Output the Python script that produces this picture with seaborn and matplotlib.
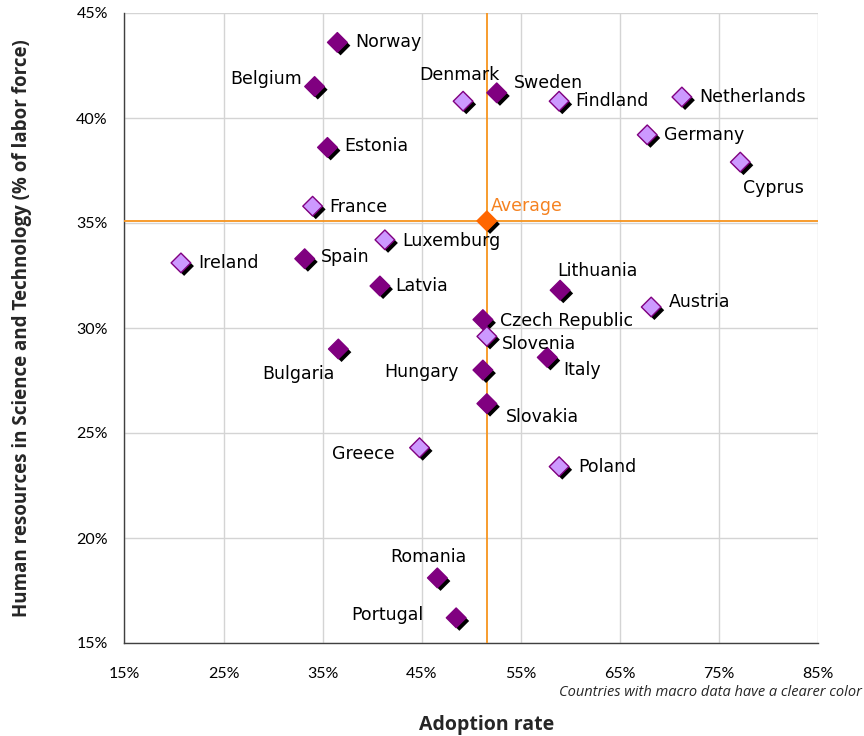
import matplotlib
matplotlib.use("Agg")
import matplotlib.pyplot as plt
import matplotlib.patheffects as pe
from matplotlib.ticker import PercentFormatter, FixedLocator
import numpy as np
import pandas as pd
import seaborn as sns

# ---- data -------------------------------------------------------------
countries = ["Norway", "Belgium", "Denmark", "Sweden", "Findland", "Netherlands",
             "Germany", "Cyprus", "Estonia", "France", "Luxemburg", "Ireland",
             "Spain", "Latvia", "Lithuania", "Austria", "Czech Republic",
             "Slovenia", "Bulgaria", "Hungary", "Italy", "Slovakia", "Greece",
             "Poland", "Romania", "Portugal"]
adoption_rate = [36.5, 34.2, 49.2, 52.6, 58.9, 71.3,
                 67.8, 77.2, 35.5, 34.0, 41.3, 20.7,
                 33.2, 40.8, 59.0, 68.2, 51.2,
                 51.6, 36.6, 51.2, 57.7, 51.6, 44.8,
                 58.9, 46.6, 48.5]
hrst_share = [43.6, 41.5, 40.8, 41.2, 40.8, 41.0,
              39.2, 37.9, 38.6, 35.8, 34.2, 33.1,
              33.3, 32.0, 31.8, 31.0, 30.4,
              29.6, 29.0, 28.0, 28.6, 26.4, 24.3,
              23.4, 18.1, 16.2]
has_macro_data = [False, False, True, False, True, True,
                  True, True, False, True, True, True,
                  False, False, False, True, False,
                  True, False, False, False, False, True,
                  True, False, False]
average_point = (51.6, 35.1)

x_ticks = [15, 25, 35, 45, 55, 65, 75, 85]
y_ticks = [15, 20, 25, 30, 35, 40, 45]

# label placement around each marker: (dx px, dy px downward, alignment)
label_place = {
    "Norway": (18, 0, "left"), "Belgium": (-13, -8, "right"),
    "Denmark": (-4, -26, "center"), "Sweden": (17, -10, "left"),
    "Findland": (16, 0, "left"), "Netherlands": (17, 0, "left"),
    "Germany": (17, 0, "left"), "Cyprus": (33, 26, "center"),
    "Estonia": (17, -1, "left"), "France": (17, 1, "left"),
    "Luxemburg": (17, 1, "left"), "Ireland": (17, 0, "left"),
    "Spain": (16, -2, "left"), "Latvia": (15, 0, "left"),
    "Lithuania": (-3, -19, "left"), "Austria": (18, -5, "left"),
    "Czech Republic": (17, 1, "left"), "Slovenia": (15, 8, "left"),
    "Bulgaria": (-4, 25, "right"), "Hungary": (-24, 2, "right"),
    "Italy": (16, 13, "left"), "Slovakia": (19, 13, "left"),
    "Greece": (-25, 6, "right"), "Poland": (19, 0, "left"),
    "Romania": (-9, -21, "center"), "Portugal": (-33, -3, "right"),
}

df = pd.DataFrame({"country": countries, "adoption": adoption_rate,
                   "hrst": hrst_share, "macro": has_macro_data})

# ---- styling ----------------------------------------------------------
sns.set_theme(style="white")
plt.rcParams["font.family"] = ["Lato", "DejaVu Sans"]

LABEL_FONT = ["DejaVu Sans"]
TITLE_FONT = ["Open Sans", "DejaVu Sans"]

DARK = "#800080"
LIGHT = "#CC99FF"
ORANGE = "#FF6600"
AVG_LINE = "#F7941E"

fig = plt.figure(figsize=(8.64, 7.36), dpi=100)
ax = fig.add_axes([124.5 / 864, 1 - 643 / 736, (817.5 - 124.5) / 864, (643 - 13) / 736])

shadow = [pe.SimplePatchShadow(offset=(2.3, -2.3), shadow_rgbFace="black", alpha=1.0),
          pe.Normal()]

sns.scatterplot(data=df, x="adoption", y="hrst", hue="macro",
                palette={True: LIGHT, False: DARK}, marker="D", s=100,
                edgecolor=DARK, linewidth=1.0, legend=False, ax=ax, zorder=4)
ax.collections[-1].set_path_effects(shadow)

# average cross-hair
ax.axvline(average_point[0], color=AVG_LINE, lw=1.3, zorder=3)
ax.axhline(average_point[1], color=AVG_LINE, lw=1.3, zorder=3)
avg = ax.scatter([average_point[0]], [average_point[1]], marker="D", s=100,
                 color=ORANGE, edgecolor=ORANGE, linewidth=1.0, zorder=5)
avg.set_path_effects(shadow)
ax.annotate("Average", xy=average_point, xytext=(4 * 0.72, 15 * 0.72),
            textcoords="offset points", ha="left", va="center",
            fontsize=12.5, family=LABEL_FONT, color="#F58220", zorder=6)

# country labels
for name, x, y in zip(countries, adoption_rate, hrst_share):
    dx, dy, ha = label_place[name]
    ax.annotate(name, xy=(x, y), xytext=(dx * 0.72, -dy * 0.72),
                textcoords="offset points", ha=ha, va="center",
                fontsize=12.5, family=LABEL_FONT, color="black", zorder=6)

# axes
ax.set_xlim(15, 85)
ax.set_ylim(15, 45)
ax.xaxis.set_major_locator(FixedLocator(x_ticks))
ax.yaxis.set_major_locator(FixedLocator(y_ticks))
ax.xaxis.set_major_formatter(PercentFormatter(decimals=0))
ax.yaxis.set_major_formatter(PercentFormatter(decimals=0))
ax.grid(True, color="#D4D4D4", lw=1.0, zorder=0)
ax.set_axisbelow(True)
for side in ("top", "right"):
    ax.spines[side].set_visible(False)
for side in ("left", "bottom"):
    ax.spines[side].set_color("#404040")
    ax.spines[side].set_linewidth(1.0)
ax.tick_params(axis="both", direction="out", length=5, width=1,
               color="#404040", labelsize=11.5, labelcolor="black")
ax.tick_params(axis="x", pad=12)
ax.tick_params(axis="y", pad=7)
ax.set_xlabel("")
ax.set_ylabel("")

fig.text(487 / 864, 1 - 725 / 736, "Adoption rate", ha="center", va="center",
         fontsize=14, fontweight="bold", family=TITLE_FONT)
fig.text(22 / 864, 1 - 328 / 736,
         "Human resources in Science and Technology (% of labor force)",
         ha="center", va="center", rotation=90, fontsize=13.5, fontweight="bold",
         family=TITLE_FONT)
fig.text(862 / 864, 1 - 693 / 736,
         "Countries with macro data have a clearer color",
         ha="right", va="center", fontsize=10.5, style="italic", family=TITLE_FONT)

fig.savefig("out.png", dpi=100)
